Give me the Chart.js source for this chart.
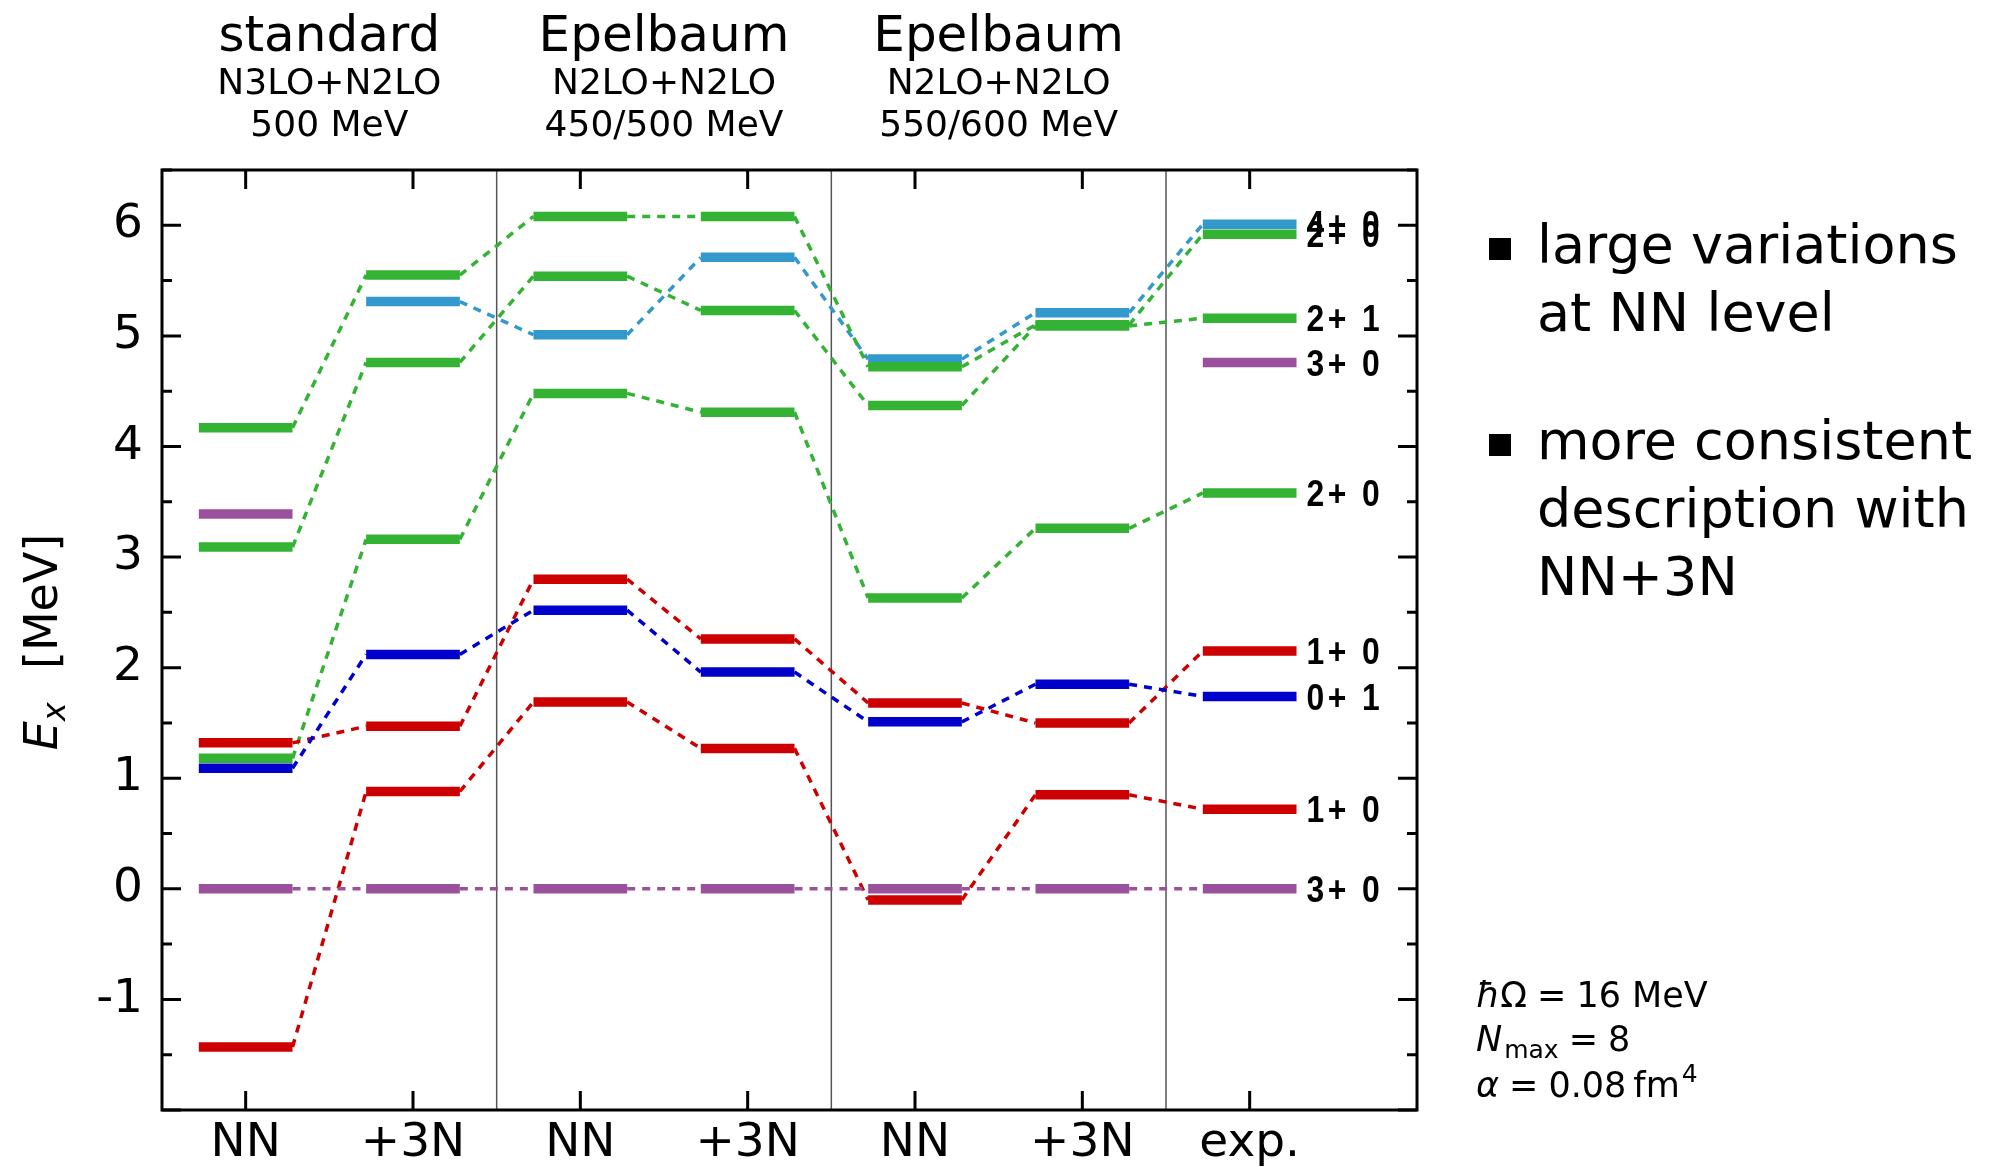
<!doctype html>
<html lang="en">

<head>
    <meta charset="utf-8">
    <title>Excitation spectrum, NN vs NN+3N</title>
    <style>
        * {
            margin: 0;
            padding: 0;
        }

        body {
            background: #fff;
        }

        canvas {
            display: block;
        }
    </style>
</head>

<body>
    <canvas id="levels" width="2002" height="1167"></canvas>

    <script src="https://cdn.jsdelivr.net/npm/chart.js"></script>

    <script>
        // columns along the x axis
        const columns = ['NN', '+3N', 'NN', '+3N', 'NN', '+3N', 'exp.']
        const groupTitles = ['standard', 'Epelbaum', 'Epelbaum']
        const groupOrders = ['N3LO+N2LO', 'N2LO+N2LO', 'N2LO+N2LO']
        const groupCutoffs = ['500 MeV', '450/500 MeV', '550/600 MeV']
        const yLabelled = [-1, 0, 1, 2, 3, 4, 5, 6]

        // excitation energies in MeV, one value per column (null = not shown)
        const gs3p0 = [0, 0, 0, 0, 0, 0, 0]
        const first1p0 = [-1.43, 0.88, 1.69, 1.27, -0.10, 0.85, 0.72]
        const first0p1 = [1.09, 2.12, 2.52, 1.96, 1.51, 1.85, 1.74]
        const second1p0 = [1.32, 1.47, 2.80, 2.26, 1.68, 1.50, 2.15]
        const first2p0 = [1.18, 3.16, 4.48, 4.31, 2.63, 3.26, 3.58]
        const second3p0 = [3.39, null, null, null, null, null, 4.76]
        const first2p1 = [3.09, 4.76, 5.54, 5.23, 4.37, 5.09, 5.16]
        const second2p0 = [4.17, 5.55, 6.08, 6.08, 4.72, 5.10, 5.92]
        const first4p0 = [null, 5.31, 5.01, 5.71, 4.79, 5.21, 6.01]

        const stateNames = ['3+ 0', '1+ 0', '0+ 1', '1+ 0', '2+ 0', '3+ 0', '2+ 1', '2+ 0', '4+ 0']
        const stateValues = [gs3p0, first1p0, first0p1, second1p0, first2p0, second3p0, first2p1, second2p0, first4p0]
        const stateColors = ['#9b509b', '#cc0000', '#0000cc', '#cc0000', '#33b233', '#9b509b', '#33b233', '#33b233', '#3399cc']

        const halfWidth = 0.28
        const separators = [1.5, 3.5, 5.5]

        // level bar from i-hw to i+hw, dashed connector to the next column
        function levelPoints(values) {
            const pts = []
            values.forEach((v, i) => {
                if (v === null) {
                    pts.push({ x: i, y: null, bar: false })
                    return
                }
                pts.push({ x: i - halfWidth, y: v, bar: true })
                pts.push({ x: i + halfWidth, y: v, bar: false })
            })
            return pts
        }

        const dataSets = stateValues.map((vals, index) => {
            return {
                label: stateNames[index],
                data: levelPoints(vals),
                borderColor: stateColors[index],
                backgroundColor: stateColors[index],
                borderWidth: 3.5,
                borderCapStyle: 'butt',
                pointRadius: 0,
                tension: 0,
                spanGaps: false,
                segment: {
                    borderWidth: c => isBar(c) ? 9.5 : 3.5,
                    borderDash: c => isBar(c) ? [] : [8, 7]
                }
            }
        })

        function isBar(c) {
            return dataSets[c.datasetIndex].data[c.p0DataIndex].bar
        }

        function drawParts(ctx, x, y, parts) {
            parts.forEach(p => {
                ctx.font = p.f
                ctx.fillText(p.t, x, y + (p.dy || 0))
                x += ctx.measureText(p.t).width + (p.gap || 0)
            })
        }

        function partsWidth(ctx, parts) {
            let w = 0
            parts.forEach(p => {
                ctx.font = p.f
                w += ctx.measureText(p.t).width + (p.gap || 0)
            })
            return w
        }

        const decor = {
            id: 'decor',
            beforeDatasetsDraw(chart) {
                const { ctx, chartArea: a, scales: { x } } = chart
                ctx.save()
                ctx.strokeStyle = '#555'
                ctx.lineWidth = 1.5
                separators.forEach(v => {
                    const px = x.getPixelForValue(v)
                    ctx.beginPath()
                    ctx.moveTo(px, a.top)
                    ctx.lineTo(px, a.bottom)
                    ctx.stroke()
                })
                ctx.restore()
            },
            afterDatasetsDraw(chart) {
                const { ctx, chartArea: a, scales: { x, y } } = chart
                ctx.save()
                ctx.strokeStyle = '#000'
                ctx.lineWidth = 3
                ctx.beginPath()
                y.ticks.forEach(t => {
                    const py = y.getPixelForValue(t.value)
                    const len = Number.isInteger(t.value) ? 19 : 10
                    ctx.moveTo(a.left, py)
                    ctx.lineTo(a.left + len, py)
                    ctx.moveTo(a.right, py)
                    ctx.lineTo(a.right - len, py)
                })
                columns.forEach((c, i) => {
                    const px = x.getPixelForValue(i)
                    ctx.moveTo(px, a.top)
                    ctx.lineTo(px, a.top + 19)
                    ctx.moveTo(px, a.bottom)
                    ctx.lineTo(px, a.bottom - 19)
                })
                ctx.stroke()
                ctx.strokeRect(a.left, a.top, a.right - a.left, a.bottom - a.top)
                ctx.restore()
            },
            afterDraw(chart) {
                const { ctx, scales: { x, y } } = chart
                ctx.save()
                ctx.fillStyle = '#000'

                // group headers
                ctx.textAlign = 'center'
                ctx.textBaseline = 'alphabetic'
                groupTitles.forEach((t, g) => {
                    const cx = x.getPixelForValue(2 * g + 0.5)
                    ctx.font = '50px "DejaVu Sans"'
                    ctx.fillText(t, cx, 51)
                    ctx.font = '36px "DejaVu Sans"'
                    ctx.fillText(groupOrders[g], cx, 94)
                    ctx.fillText(groupCutoffs[g], cx, 136)
                })

                // state labels next to the experimental column (tall, condensed bold)
                ctx.textAlign = 'left'
                ctx.textBaseline = 'middle'
                ctx.font = 'bold 37px "Liberation Sans"'
                ctx.letterSpacing = '4px'
                const lx = x.getPixelForValue(columns.length - 1 + halfWidth) + 10
                stateValues.forEach((vals, i) => {
                    const v = vals[columns.length - 1]
                    if (v === null) return
                    ctx.save()
                    ctx.translate(lx, y.getPixelForValue(v) + 3)
                    ctx.scale(0.86, 1)
                    ctx.fillText(stateNames[i], 0, 0)
                    ctx.restore()
                })
                ctx.letterSpacing = '0px'

                // y axis title
                ctx.textAlign = 'left'
                ctx.textBaseline = 'alphabetic'
                const title = [
                    { t: 'E', f: 'italic 46px "DejaVu Sans"' },
                    { t: 'x', f: 'italic 32px "DejaVu Sans"', dy: 8, gap: 4 },
                    { t: '  [MeV]', f: '46px "DejaVu Sans"' }
                ]
                ctx.save()
                ctx.translate(57, 642)
                ctx.rotate(-Math.PI / 2)
                drawParts(ctx, -partsWidth(ctx, title) / 2, 0, title)
                ctx.restore()

                // bullet notes
                const notes = [
                    ['large variations', 'at NN level'],
                    ['more consistent', 'description with', 'NN+3N']
                ]
                const noteTop = [263, 459]
                ctx.font = '54px "DejaVu Sans"'
                notes.forEach((lines, n) => {
                    ctx.fillRect(1489, noteTop[n] - 25, 22, 22)
                    lines.forEach((l, k) => ctx.fillText(l, 1537, noteTop[n] + k * 68))
                })

                // parameters
                const f = '35px "DejaVu Sans"'
                const fi = 'italic 35px "DejaVu Sans"'
                const fs = '25px "DejaVu Sans"'
                drawParts(ctx, 1476, 1007, [
                    { t: 'ħ', f: fi }, { t: 'Ω', f: f, gap: 10 }, { t: '=', f: f, gap: 10 }, { t: '16 MeV', f: f }
                ])
                drawParts(ctx, 1476, 1051, [
                    { t: 'N', f: fi, gap: 2 }, { t: 'max', f: fs, dy: 7, gap: 10 }, { t: '=', f: f, gap: 10 }, { t: '8', f: f }
                ])
                drawParts(ctx, 1476, 1097, [
                    { t: 'α', f: fi, gap: 10 }, { t: '=', f: f, gap: 10 }, { t: '0.08', f: f, gap: 7 },
                    { t: 'fm', f: f, gap: 2 }, { t: '4', f: fs, dy: -15 }
                ])
                ctx.restore()
            }
        }

        Chart.defaults.font.family = '"DejaVu Sans"'
        Chart.defaults.color = '#000'

        const config = {
            type: 'line',
            data: {
                datasets: dataSets
            },
            options: {
                responsive: false,
                animation: false,
                layout: {
                    padding: { left: 0, right: 585, top: 170, bottom: 0 }
                },
                plugins: {
                    legend: { display: false },
                    tooltip: { enabled: false }
                },
                scales: {
                    x: {
                        type: 'linear',
                        min: -0.5,
                        max: 7,
                        grid: { display: false, drawTicks: false },
                        border: { display: false },
                        afterBuildTicks: s => {
                            s.ticks = columns.map((c, i) => ({ value: i }))
                        },
                        afterFit: s => { s.height = 57 },
                        ticks: {
                            autoSkip: false,
                            maxRotation: 0,
                            padding: 6,
                            font: { size: 47 },
                            callback: v => columns[v]
                        }
                    },
                    y: {
                        min: -2,
                        max: 6.5,
                        grid: { display: false, drawTicks: false },
                        border: { display: false },
                        afterFit: s => { s.width = 162 },
                        ticks: {
                            stepSize: 0.5,
                            autoSkip: false,
                            padding: 19,
                            font: { size: 47 },
                            callback: v => yLabelled.includes(v) ? String(v) : ''
                        }
                    }
                }
            },
            plugins: [decor]
        }

        const levelChart = new Chart(document.getElementById('levels'), config)
    </script>
</body>

</html>
